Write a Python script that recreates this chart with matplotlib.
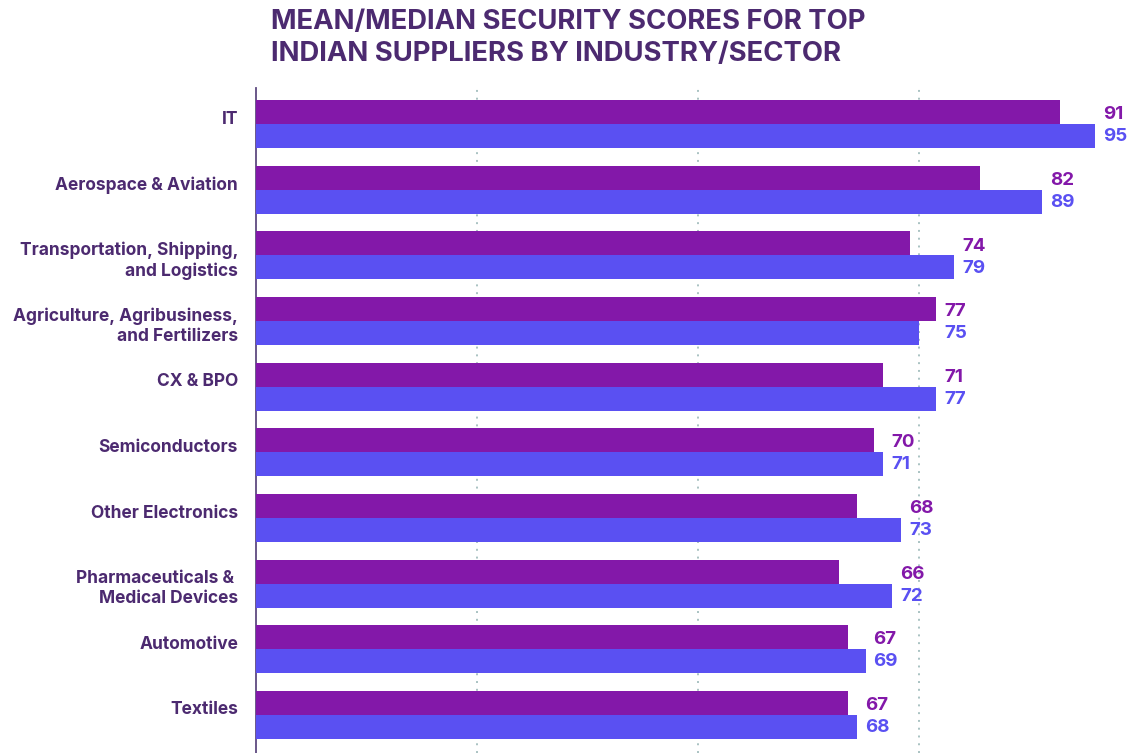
import numpy as np
import matplotlib
matplotlib.use("Agg")
from matplotlib import pyplot as plt

plt.rcParams['font.family'] = ['Inter', 'DejaVu Sans']

# data
sectors = ['IT', 'Aerospace & Aviation', 'Transportation, Shipping,\nand Logistics',
           'Agriculture, Agribusiness,\nand Fertilizers', 'CX & BPO', 'Semiconductors',
           'Other Electronics', 'Pharmaceuticals & \nMedical Devices', 'Automotive', 'Textiles']
mean_scores = [91, 82, 74, 77, 71, 70, 68, 66, 67, 67]
median_scores = [95, 89, 79, 75, 77, 71, 73, 72, 69, 68]

purple = '#8318a9'
blue = '#5a50f2'
dark = '#4c2a70'

W, H = 1129, 753
fig = plt.figure(figsize=(W / 100, H / 100), dpi=100)
ax_w = W - 256
ax = fig.add_axes([256 / W, 0, ax_w / W, (753 - 88) / H])

y = np.arange(len(sectors))
h = 0.365
ax.barh(y - h / 2, mean_scores, height=h, color=purple, zorder=3)
ax.barh(y + h / 2, median_scores, height=h, color=blue, zorder=3)

# value labels to the right of the longer bar of each pair
for i in range(len(sectors)):
    xl = max(mean_scores[i], median_scores[i]) + 0.9
    ax.text(xl, y[i] - h / 2 + 0.04, str(mean_scores[i]), color=purple, fontsize=13.5,
            fontweight='bold', va='center', ha='left')
    ax.text(xl, y[i] + h / 2 + 0.01, str(median_scores[i]), color=blue, fontsize=13.5,
            fontweight='bold', va='center', ha='left')

# sector names, top-aligned inside each group
for i, name in enumerate(sectors):
    ax.text(-18 / ax_w, y[i] - 0.205, name, transform=ax.get_yaxis_transform(),
            ha='right', va='top', fontsize=12.5, fontweight='bold', color=dark,
            linespacing=1.25, multialignment='right')

ax.set_xticks([25, 50, 75])
ax.set_xticklabels([])
ax.set_xlim(0, ax_w / 8.835)
ax.set_ylim(len(sectors) - 1 + 0.58, -0.55)
ax.tick_params(axis='x', length=0)
ax.grid(axis='x', linestyle=(0, (1, 3)), color='#a9c2c2', linewidth=1.4, zorder=0)

ax.set_yticks([])

for s in ['top', 'right', 'bottom']:
    ax.spines[s].set_visible(False)
ax.spines['left'].set_color('#5e4a80')
ax.spines['left'].set_linewidth(1.3)

fig.text(271 / W, 1 - 38 / H, 'MEAN/MEDIAN SECURITY SCORES FOR TOP\nINDIAN SUPPLIERS BY INDUSTRY/SECTOR',
         fontsize=19.8, fontweight='bold', color=dark, ha='left', va='center', linespacing=1.3)

fig.savefig('out.png', dpi=100)
